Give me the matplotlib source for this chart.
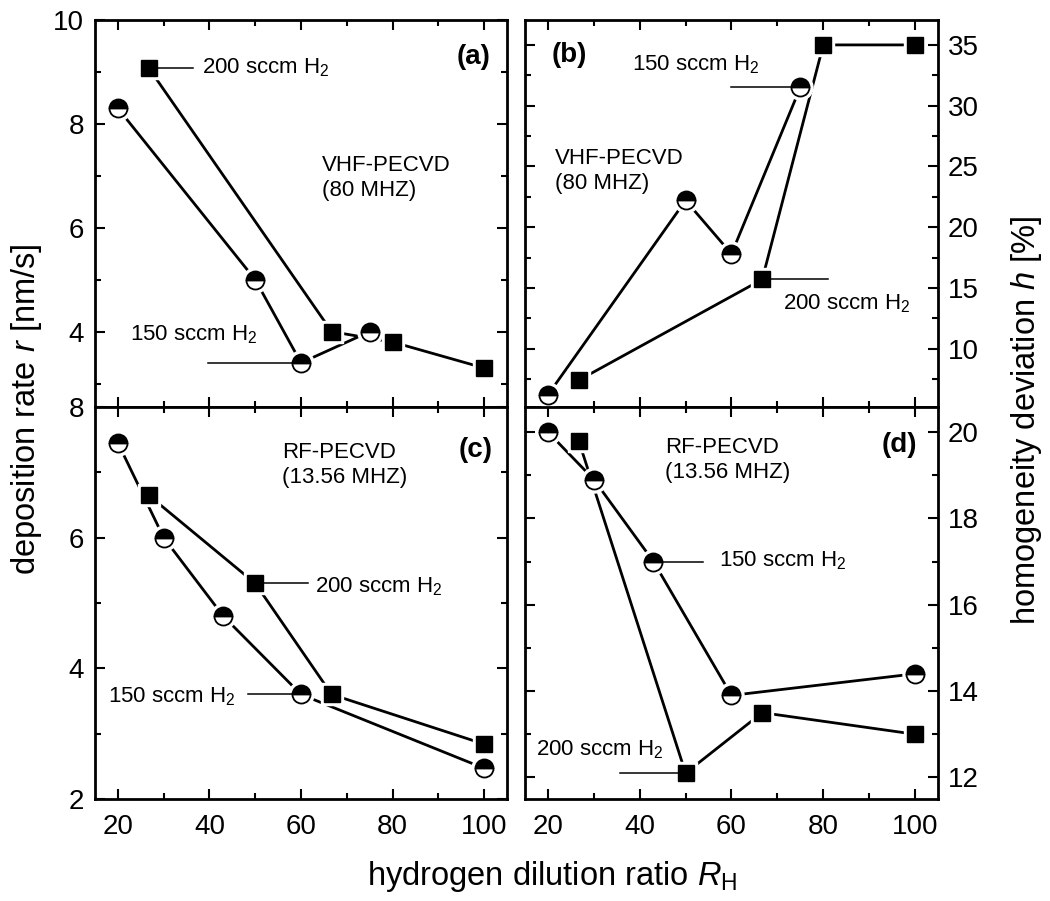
import numpy as np
import matplotlib.pyplot as plt
from matplotlib.ticker import MultipleLocator

plt.rcParams['font.family'] = ['Liberation Sans', 'DejaVu Sans']
plt.rcParams['mathtext.fontset'] = 'custom'
plt.rcParams['mathtext.rm'] = 'Liberation Sans'
plt.rcParams['mathtext.it'] = 'Liberation Sans:italic'

# (a) VHF - deposition rate
a_x150 = [20, 50, 60, 75]
a_y150 = [8.3, 5.0, 3.4, 4.0]
a_x200 = [26.7, 66.7, 80, 100]
a_y200 = [9.08, 4.0, 3.8, 3.3]

# (b) VHF - homogeneity deviation
b_x150 = [20, 50, 60, 75]
b_y150 = [6.2, 22.2, 17.8, 31.5]
b_x200 = [26.7, 66.7, 80, 100]
b_y200 = [7.4, 15.7, 35, 35]

# (c) RF - deposition rate
c_x150 = [20, 30, 43, 60, 100]
c_y150 = [7.45, 6.0, 4.8, 3.6, 2.47]
c_x200 = [26.7, 50, 66.7, 100]
c_y200 = [6.65, 5.3, 3.6, 2.84]

# (d) RF - homogeneity deviation
d_x150 = [20, 30, 43, 60, 100]
d_y150 = [20.0, 18.9, 17.0, 13.9, 14.4]
d_x200 = [26.7, 50, 66.7, 100]
d_y200 = [19.8, 12.1, 13.5, 13.0]


def serie(ax, x, y, tipo):
    ax.plot(x, y, '-', color='k', lw=2, zorder=2)
    if tipo == 'sq':
        estilo = dict(marker='s', ms=11.5, mfc='k', mec='k')
    else:
        estilo = dict(marker='o', ms=13, fillstyle='top', mfc='k',
                      markerfacecoloralt='white', mec='k', mew=1.3)
    # halo blanco para cortar las lineas junto al simbolo
    ax.plot(x, y, ls='none', marker=estilo['marker'], ms=estilo['ms'] + 5,
            mfc='white', mec='white', zorder=3)
    ax.plot(x, y, ls='none', zorder=5, **estilo)


def guia(ax, x0, x1, y):
    ax.plot([x0, x1], [y, y], color='k', lw=1.1, zorder=4)


def etiqueta(ax, fx, fy, texto, **kw):
    ax.text(fx, fy, texto, transform=ax.transAxes, fontsize=16, va='center', **kw)


fig = plt.figure(figsize=(10.5, 9.01), dpi=100)
ax_a = fig.add_axes([0.0905, 0.5483, 0.3924, 0.4295])
ax_b = fig.add_axes([0.5, 0.5483, 0.3933, 0.4295])
ax_c = fig.add_axes([0.0905, 0.1132, 0.3924, 0.4351])
ax_d = fig.add_axes([0.5, 0.1132, 0.3933, 0.4351])

for ax in (ax_a, ax_b, ax_c, ax_d):
    ax.set_xlim(15, 105)
    ax.xaxis.set_major_locator(MultipleLocator(20))
    ax.xaxis.set_minor_locator(MultipleLocator(10))
    ax.tick_params(which='both', direction='in', top=True, right=True,
                   left=True, bottom=True, labelsize=20, width=1.5)
    ax.tick_params(which='major', length=7)
    ax.tick_params(which='minor', length=4.5)
    ax.tick_params(axis='x', pad=11)
    for s in ax.spines.values():
        s.set_linewidth(2)

ax_a.set_ylim(2.55, 10)
ax_a.yaxis.set_major_locator(MultipleLocator(2))
ax_a.yaxis.set_minor_locator(MultipleLocator(1))
ax_c.set_ylim(2, 8)
ax_c.yaxis.set_major_locator(MultipleLocator(2))
ax_c.yaxis.set_minor_locator(MultipleLocator(1))
ax_b.set_ylim(5.2, 37.05)
ax_b.yaxis.set_major_locator(MultipleLocator(5))
ax_b.yaxis.set_minor_locator(MultipleLocator(2.5))
ax_d.set_ylim(11.5, 20.58)
ax_d.yaxis.set_major_locator(MultipleLocator(2))
ax_d.yaxis.set_minor_locator(MultipleLocator(1))

ax_a.tick_params(axis='x', labelbottom=False)
ax_a.tick_params(axis='y', pad=8)
ax_c.tick_params(axis='y', pad=8)
ax_b.tick_params(axis='x', labelbottom=False)
ax_b.tick_params(axis='y', labelleft=False, labelright=True, pad=7)
ax_d.tick_params(axis='y', labelleft=False, labelright=True, pad=7)

h2 = ' sccm H$_2$'

# (a)
serie(ax_a, a_x150, a_y150, 'o')
serie(ax_a, a_x200, a_y200, 'sq')
guia(ax_a, a_x200[0], 36.5, a_y200[0])
guia(ax_a, 39.6, a_x150[2], a_y150[2])
etiqueta(ax_a, 0.26, 0.876, '200' + h2)
etiqueta(ax_a, 0.085, 0.186, '150' + h2)
etiqueta(ax_a, 0.551, 0.592, 'VHF-PECVD\n(80 MHZ)', linespacing=1.25)
ax_a.text(0.959, 0.904, '(a)', transform=ax_a.transAxes, fontsize=20,
          fontweight='bold', ha='right', va='center')

# (b)
serie(ax_b, b_x150, b_y150, 'o')
serie(ax_b, b_x200, b_y200, 'sq')
guia(ax_b, 60, b_x150[3], b_y150[3])
guia(ax_b, b_x200[1], 81.1, b_y200[1])
etiqueta(ax_b, 0.259, 0.884, '150' + h2)
etiqueta(ax_b, 0.625, 0.266, '200' + h2)
etiqueta(ax_b, 0.073, 0.61, 'VHF-PECVD\n(80 MHZ)', linespacing=1.25)
ax_b.text(0.065, 0.91, '(b)', transform=ax_b.transAxes, fontsize=20,
          fontweight='bold', ha='left', va='center')

# (c)
serie(ax_c, c_x150, c_y150, 'o')
serie(ax_c, c_x200, c_y200, 'sq')
guia(ax_c, c_x200[1], 61.5, c_y200[1])
guia(ax_c, 48.5, c_x150[3], c_y150[3])
etiqueta(ax_c, 0.534, 0.541, '200' + h2)
etiqueta(ax_c, 0.032, 0.26, '150' + h2)
etiqueta(ax_c, 0.454, 0.852, 'RF-PECVD\n(13.56 MHZ)', linespacing=1.25)
ax_c.text(0.966, 0.89, '(c)', transform=ax_c.transAxes, fontsize=20,
          fontweight='bold', ha='right', va='center')

# (d)
serie(ax_d, d_x150, d_y150, 'o')
serie(ax_d, d_x200, d_y200, 'sq')
guia(ax_d, d_x150[2], 53.7, d_y150[2])
guia(ax_d, 35.7, d_x200[1], d_y200[1])
etiqueta(ax_d, 0.47, 0.607, '150' + h2)
etiqueta(ax_d, 0.027, 0.125, '200' + h2)
etiqueta(ax_d, 0.339, 0.865, 'RF-PECVD\n(13.56 MHZ)', linespacing=1.25)
ax_d.text(0.949, 0.903, '(d)', transform=ax_d.transAxes, fontsize=20,
          fontweight='bold', ha='right', va='center')

fig.text(27 / 1050, 1 - 409 / 901, 'deposition rate $r$ [nm/s]', rotation=90,
         fontsize=23.5, ha='center', va='center')
fig.text(1027 / 1050, 1 - 420 / 901, 'homogeneity deviation $h$ [%]', rotation=90,
         fontsize=23.5, ha='center', va='center')
fig.text(552 / 1050, 1 - 877 / 901, 'hydrogen dilution ratio $R_\\mathrm{H}$',
         fontsize=23.5, ha='center', va='center')

fig.savefig('out.png', dpi=100)
